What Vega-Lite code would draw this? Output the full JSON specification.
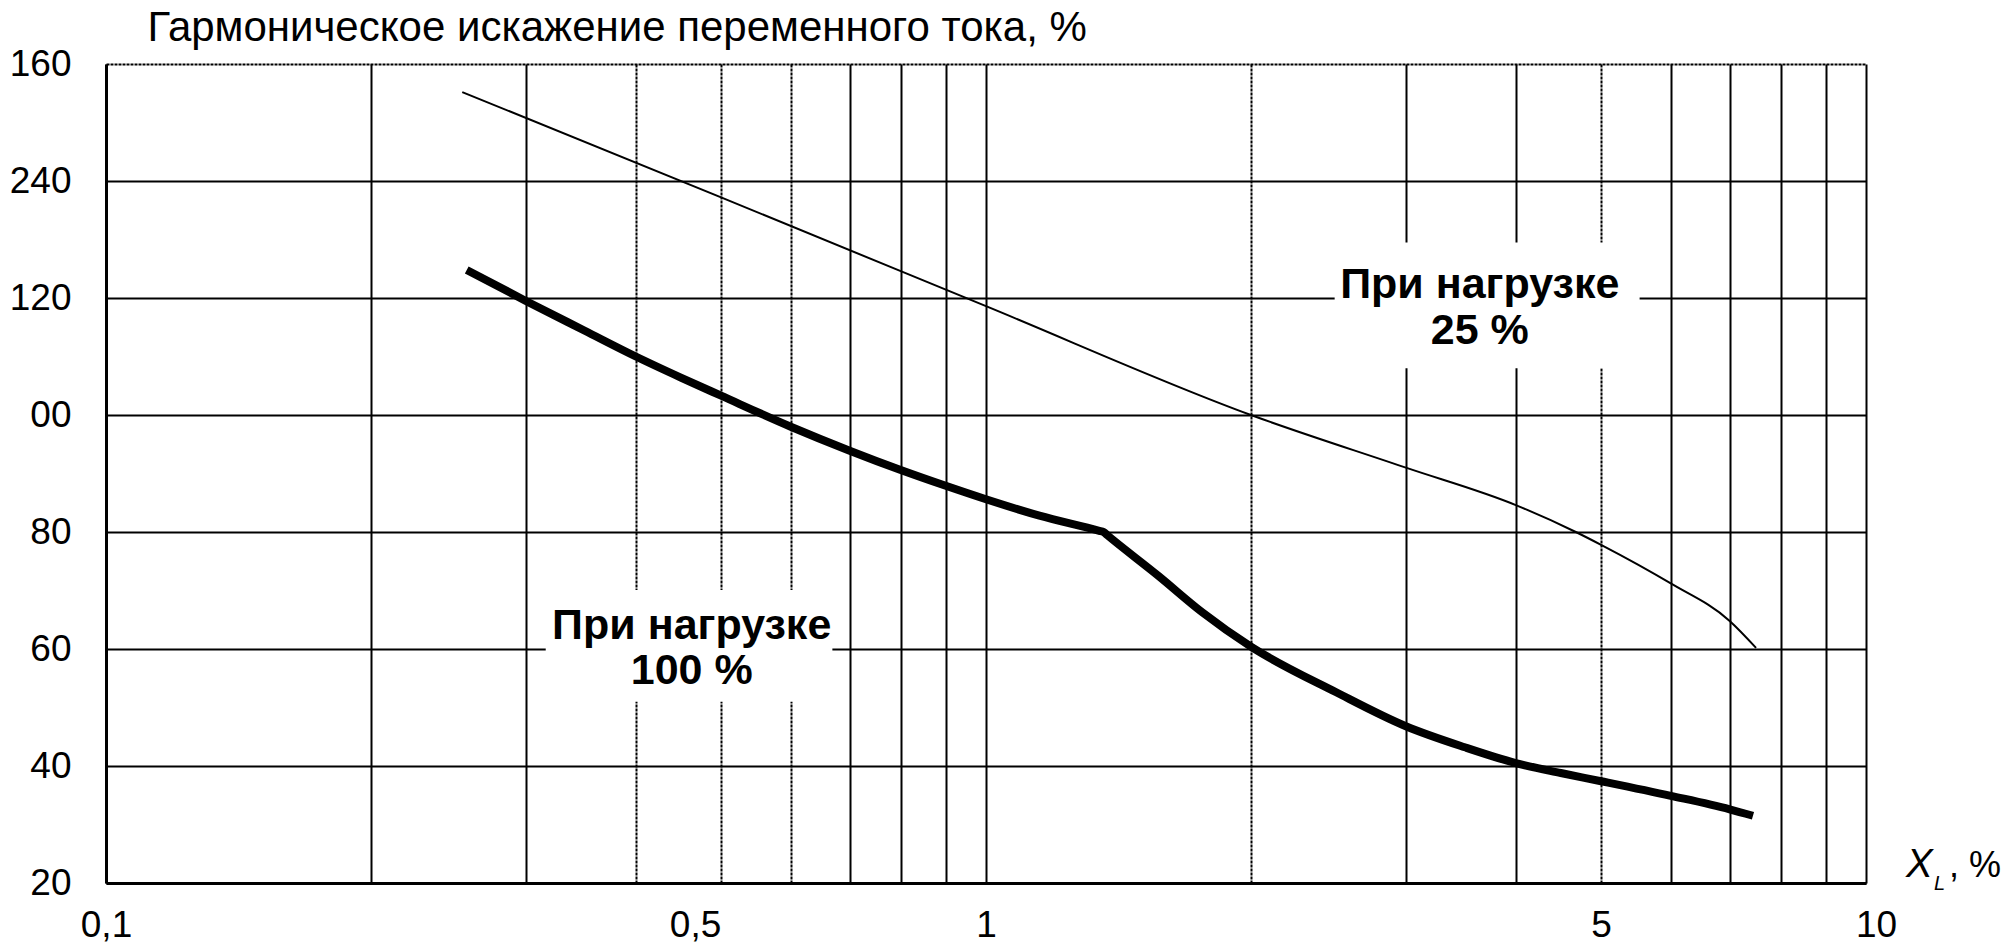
{
  "$schema": "https://vega.github.io/schema/vega-lite/v6.json",
  "width": 1760,
  "height": 819,
  "autosize": "none",
  "padding": {"left": 106, "top": 64, "right": 146, "bottom": 67},
  "background": "white",
  "config": {"view": {"stroke": null}, "font": "Liberation Sans"},
  "datasets": {
    "load25": [
      {"x": 0.254, "y": 155.2}, {"x": 0.5, "y": 137.2}, {"x": 1.0, "y": 118.6}, {"x": 2.0, "y": 100.0},
      {"x": 3.0, "y": 91.0}, {"x": 4.0, "y": 84.6}, {"x": 4.68, "y": 80.0}, {"x": 5.0, "y": 77.8},
      {"x": 6.0, "y": 71.2}, {"x": 7.0, "y": 64.8}, {"x": 7.5, "y": 60.2}
    ],
    "load100": [
      {"x": 0.257, "y": 124.8}, {"x": 0.3, "y": 119.5}, {"x": 0.35, "y": 114.4}, {"x": 0.4, "y": 110.0},
      {"x": 0.45, "y": 106.4}, {"x": 0.5, "y": 103.3}, {"x": 0.6, "y": 98.0}, {"x": 0.7, "y": 93.9},
      {"x": 0.8, "y": 90.6}, {"x": 0.9, "y": 87.9}, {"x": 1.0, "y": 85.6}, {"x": 1.15, "y": 82.8},
      {"x": 1.345, "y": 80.2}, {"x": 1.36, "y": 80.0}, {"x": 1.375, "y": 79.4}, {"x": 1.57, "y": 72.5},
      {"x": 1.76, "y": 66.3}, {"x": 2.0, "y": 60.4}, {"x": 2.5, "y": 52.6}, {"x": 3.0, "y": 46.8},
      {"x": 3.5, "y": 43.2}, {"x": 4.0, "y": 40.5}, {"x": 4.5, "y": 38.8}, {"x": 5.0, "y": 37.4},
      {"x": 6.0, "y": 34.9}, {"x": 7.0, "y": 32.6}, {"x": 7.44, "y": 31.5}
    ],
    "one": [{}]
  },
  "layer": [
    {
      "data": {"name": "load25"},
      "mark": {"type": "line", "color": "black", "strokeWidth": 2, "interpolate": "monotone"},
      "encoding": {
        "x": {
          "field": "x", "type": "quantitative",
          "scale": {"type": "log", "domain": [0.1, 10], "nice": false},
          "axis": {
            "values": [0.1, 0.2, 0.3, 0.4, 0.5, 0.6, 0.7, 0.8, 0.9, 1, 2, 3, 4, 5, 6, 7, 8, 9, 10],
            "labelExpr": "datum.value==0.1?'0,1':datum.value==0.5?'0,5':datum.value==1?'1':datum.value==5?'5':datum.value==10?'10':''",
            "grid": true, "gridColor": "black", "gridWidth": 2, "gridOpacity": 1,
            "gridDash": {"condition": {"test": "indexof([0.4,0.5,0.6,2,5], datum.value) >= 0", "value": [3, 1]}, "value": []},
            "ticks": false, "domain": true, "domainColor": "black", "domainWidth": 3,
            "labelFont": "Liberation Sans", "labelFontSize": 37, "labelColor": "black", "labelPadding": 24,
            "labelOffset": {"condition": [{"test": "datum.value==0.5", "value": -26}, {"test": "datum.value==10", "value": 10}], "value": 0},
            "labelFlush": false, "labelOverlap": false,
            "title": null
          }
        },
        "y": {
          "field": "y", "type": "quantitative",
          "scale": {"domain": [20, 160], "nice": false, "zero": false},
          "axis": {
            "values": [20, 40, 60, 80, 100, 120, 140, 160],
            "labelExpr": "datum.value==140?'240':datum.value==100?'00':datum.label",
            "grid": true, "gridColor": "black", "gridWidth": 2, "gridOpacity": 1,
            "gridDash": {"condition": {"test": "datum.value==160", "value": [3, 1]}, "value": []},
            "ticks": false, "domain": true, "domainColor": "black", "domainWidth": 3,
            "labelFont": "Liberation Sans", "labelFontSize": 37, "labelColor": "black", "labelPadding": 35,
            "labelAlign": "right", "labelBaseline": "middle",
            "title": "Гармоническое искажение переменного тока, %",
            "titleFont": "Liberation Sans", "titleFontSize": 42, "titleFontWeight": "normal", "titleColor": "black",
            "titleAngle": 0, "titleAlign": "left", "titleBaseline": "middle", "titleX": 41, "titleY": -37
          }
        }
      }
    },
    {
      "data": {"name": "load100"},
      "mark": {"type": "line", "color": "black", "strokeWidth": 8, "interpolate": "monotone", "strokeCap": "butt", "strokeJoin": "round"},
      "encoding": {
        "x": {"field": "x", "type": "quantitative"},
        "y": {"field": "y", "type": "quantitative"}
      }
    },
    {
      "data": {"name": "one"},
      "mark": {"type": "rect", "color": "white"},
      "encoding": {
        "x": {"datum": 2.49, "type": "quantitative"},
        "x2": {"datum": 5.53},
        "y": {"datum": 129.5, "type": "quantitative"},
        "y2": {"datum": 108.0}
      }
    },
    {
      "data": {"name": "one"},
      "mark": {"type": "rect", "color": "white"},
      "encoding": {
        "x": {"datum": 0.316, "type": "quantitative"},
        "x2": {"datum": 0.669},
        "y": {"datum": 70.1, "type": "quantitative"},
        "y2": {"datum": 51.0}
      }
    },
    {
      "data": {"name": "one"},
      "mark": {"type": "text", "text": ["При нагрузке", "25 %"], "font": "Liberation Sans", "fontWeight": "bold", "fontSize": 43, "lineHeight": 46, "align": "center", "baseline": "middle", "color": "black"},
      "encoding": {
        "x": {"datum": 3.64, "type": "quantitative"},
        "y": {"datum": 122.2, "type": "quantitative"}
      }
    },
    {
      "data": {"name": "one"},
      "mark": {"type": "text", "text": ["При нагрузке", "100 %"], "font": "Liberation Sans", "fontWeight": "bold", "fontSize": 43, "lineHeight": 45, "align": "center", "baseline": "middle", "color": "black"},
      "encoding": {
        "x": {"datum": 0.463, "type": "quantitative"},
        "y": {"datum": 63.9, "type": "quantitative"}
      }
    },
    {
      "data": {"name": "one"},
      "mark": {"type": "text", "text": "X", "font": "Liberation Sans", "fontStyle": "italic", "fontSize": 40, "align": "left", "baseline": "alphabetic", "dx": 40, "dy": -6, "color": "black"},
      "encoding": {
        "x": {"datum": 10, "type": "quantitative"},
        "y": {"datum": 20, "type": "quantitative"}
      }
    },
    {
      "data": {"name": "one"},
      "mark": {"type": "text", "text": "L", "font": "Liberation Sans", "fontStyle": "italic", "fontSize": 20, "align": "left", "baseline": "alphabetic", "dx": 68, "dy": 7, "color": "black"},
      "encoding": {
        "x": {"datum": 10, "type": "quantitative"},
        "y": {"datum": 20, "type": "quantitative"}
      }
    },
    {
      "data": {"name": "one"},
      "mark": {"type": "text", "text": ", %", "font": "Liberation Sans", "fontSize": 36, "align": "left", "baseline": "alphabetic", "dx": 83, "dy": -6, "color": "black"},
      "encoding": {
        "x": {"datum": 10, "type": "quantitative"},
        "y": {"datum": 20, "type": "quantitative"}
      }
    }
  ]
}
